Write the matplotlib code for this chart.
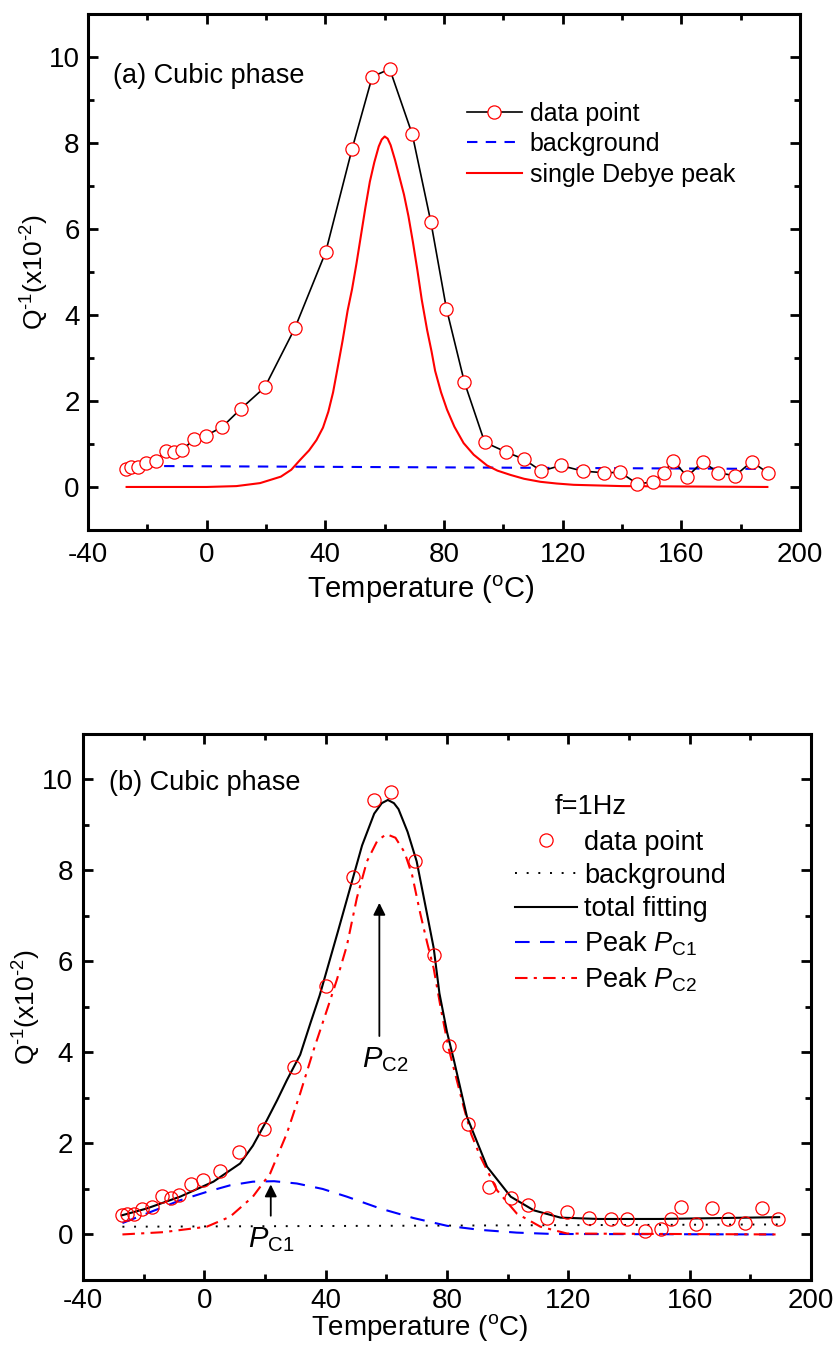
import matplotlib
matplotlib.use('Agg')
import matplotlib.pyplot as plt
from matplotlib.ticker import MultipleLocator

plt.rcParams['font.family'] = ['Liberation Sans', 'DejaVu Sans']
plt.rcParams['mathtext.fontset'] = 'custom'
plt.rcParams['mathtext.rm'] = 'Liberation Sans'
plt.rcParams['mathtext.it'] = 'Liberation Sans:italic'
plt.rcParams['mathtext.bf'] = 'Liberation Sans:bold'
plt.rcParams['axes.unicode_minus'] = False

# ---------------- data ----------------
temp = [-27.3, -25.6, -23.3, -20.5, -17.2, -13.8, -11.0, -8.2, -4.3, -0.3,
        5.3, 11.4, 19.6, 29.7, 40.1, 49.0, 55.8, 61.7, 69.3, 75.6,
        80.8, 86.9, 93.7, 101.0, 106.8, 112.8, 119.4, 126.7, 134.0, 139.4,
        145.2, 150.6, 154.0, 157.3, 162.0, 167.2, 172.5, 178.1, 183.7, 189.1]
q_inv = [0.42, 0.46, 0.46, 0.55, 0.60, 0.84, 0.81, 0.86, 1.11, 1.19,
         1.40, 1.81, 2.32, 3.69, 5.46, 7.86, 9.54, 9.72, 8.20, 6.15,
         4.15, 2.43, 1.04, 0.81, 0.65, 0.37, 0.50, 0.37, 0.33, 0.34,
         0.07, 0.12, 0.33, 0.61, 0.24, 0.59, 0.33, 0.26, 0.59, 0.33]

# (a) background and single Debye peak
bg_a_x = [-27, 189]
bg_a_y = [0.49, 0.42]
debye_x = [-27, 0, 10, 18, 25, 28.5, 31.5, 34.5, 37, 39.2, 41, 42.6, 44, 45.8, 47.5, 49, 50.5,
           52, 53.5, 55, 56.5, 58, 59, 60, 61, 62, 63.5, 65, 66.5, 68, 69.5, 71, 72.5, 74.3,
           75.8, 77, 79, 81, 83.5, 86.6, 90, 94.5, 98, 102.4, 107, 112.5, 118, 123.7, 140, 189]
debye_y = [0, 0, 0.02, 0.09, 0.24, 0.4, 0.63, 0.85, 1.09, 1.38, 1.75, 2.2, 2.72, 3.4, 4.1, 4.6,
           5.2, 5.85, 6.5, 7.1, 7.55, 7.92, 8.08, 8.15, 8.1, 7.95, 7.6, 7.2, 6.8, 6.3, 5.7, 5.05,
           4.35, 3.65, 3.15, 2.7, 2.2, 1.8, 1.4, 1.02, 0.75, 0.5, 0.38, 0.28, 0.19, 0.12, 0.08,
           0.05, 0.02, 0]

# (b) fitting
bg_b_x = [-27, 189]
bg_b_y = [0.17, 0.22]
pc1_x = [-27, -19, -8, 1, 8.5, 16, 23, 30.5, 39, 47, 58, 69, 80, 91, 103, 115, 189]
pc1_y = [0.25, 0.46, 0.75, 0.94, 1.08, 1.16, 1.17, 1.12, 1.0, 0.83, 0.57, 0.36, 0.19, 0.1, 0.04, 0.01, 0]
pc2_x = [-27, -13.5, 0.8, 8.5, 16, 21.7, 27.2, 31.6, 36, 41.5, 43.7, 47, 50.3, 53.6, 57, 60,
         63, 66, 68.5, 71.2, 73.5, 75.6, 78, 80.5, 83, 85.5, 88, 91, 96.5, 103, 110.8, 119.6, 189]
pc2_y = [0, 0.05, 0.17, 0.39, 0.83, 1.34, 2.22, 3.1, 4.05, 5.15, 5.6, 6.35, 7.4, 8.2, 8.65, 8.8,
         8.72, 8.4, 7.9, 7.05, 6.4, 5.85, 4.95, 4.1, 3.45, 2.8, 2.2, 1.71, 0.97, 0.46, 0.17, 0.02, 0]
tot_x = [-27.2, -19, -8, 3, 11.8, 16, 20.6, 24, 27.2, 31.6, 35, 38, 41, 44, 48, 52, 56, 58.5,
         60.5, 62.5, 64, 67, 70, 73.4, 75.6, 77.5, 80, 82.2, 86.6, 93.2, 101, 108.6, 117.4, 130,
         150, 170, 189.5]
tot_y = [0.42, 0.57, 0.83, 1.16, 1.56, 1.95, 2.51, 2.95, 3.39, 3.95, 4.65, 5.25, 5.95, 6.65, 7.6,
         8.55, 9.25, 9.48, 9.55, 9.48, 9.35, 8.85, 8.2, 7.05, 6.3, 5.3, 4.45, 3.85, 2.58, 1.49, 0.83,
         0.53, 0.37, 0.34, 0.34, 0.36, 0.38]

xticks_major = 40
yticks_major = 2
ylabel_text = 'Q$^{\\text{-}1}$(x10$^{\\text{-}2}$)'

fig = plt.figure(figsize=(8.4, 13.53), dpi=100)
ax1 = fig.add_axes([0.1048, 0.6083, 0.8476, 0.3814])
ax2 = fig.add_axes([0.0988, 0.0540, 0.8667, 0.4035])


def style(ax, tickfs, xpad, ypad):
    ax.set_xlim(-40, 200)
    ax.set_ylim(-1, 11)
    ax.xaxis.set_major_locator(MultipleLocator(xticks_major))
    ax.xaxis.set_minor_locator(MultipleLocator(xticks_major / 2))
    ax.yaxis.set_major_locator(MultipleLocator(yticks_major))
    ax.yaxis.set_minor_locator(MultipleLocator(yticks_major / 2))
    ax.tick_params(which='both', direction='in', top=True, right=True, width=2)
    ax.tick_params(which='major', length=7)
    ax.tick_params(which='minor', length=4)
    ax.tick_params(axis='x', labelsize=tickfs, pad=xpad)
    ax.tick_params(axis='y', labelsize=tickfs, pad=ypad)
    for s in ax.spines.values():
        s.set_linewidth(2.2)


# ---------------- (a) ----------------
style(ax1, 20, 9, 6)
ax1.plot(temp, q_inv, '-', color='black', lw=1.2, marker='o', ms=9.5,
         mfc='white', mec='red', mew=0.9, label='data point', zorder=3)
ax1.plot(bg_a_x, bg_a_y, color='blue', lw=1.5, dashes=(5, 4), label='background', zorder=2)
ax1.plot(debye_x, debye_y, color='red', lw=1.5, label='single Debye peak', zorder=2)
ax1.text(-31.5, 9.55, '(a) Cubic phase', fontsize=19.5, va='center', ha='left')
leg1 = ax1.legend(loc='upper left', bbox_to_anchor=(0.532, 0.830), frameon=False,
                  fontsize=18, numpoints=1, handlelength=2.2, handletextpad=0.32,
                  labelspacing=0.26, borderpad=0, borderaxespad=0)
ax1.set_xlabel('Temperature ($^{\\rm o}$C)', fontsize=21)
ax1.xaxis.set_label_coords(0.468, -0.085)
ax1.set_ylabel(ylabel_text, fontsize=19)
ax1.yaxis.set_label_coords(-0.052, 0.5)

# ---------------- (b) ----------------
style(ax2, 20, 6, 7)
ax2.plot(temp, q_inv, linestyle='none', marker='o', ms=9.5, mfc='none', mec='red',
         mew=0.9, label='data point', zorder=4)
ax2.plot(bg_b_x, bg_b_y, color='black', lw=1.4, dashes=(1, 5), label='background', zorder=2)
ax2.plot(tot_x, tot_y, color='black', lw=1.5, label='total fitting', zorder=3)
ax2.plot(pc1_x, pc1_y, color='blue', lw=1.5, dashes=(7, 5), label='Peak $P_{\\rm C1}$', zorder=2)
ax2.plot(pc2_x, pc2_y, color='red', lw=1.5, dashes=(6, 3, 1.5, 3),
         label='Peak $P_{\\rm C2}$', zorder=2)
ax2.text(-31.5, 9.92, '(b) Cubic phase', fontsize=19.5, va='center', ha='left')
ax2.text(127.5, 9.4, 'f=1Hz', fontsize=19.5, va='center', ha='center')
leg2 = ax2.legend(loc='upper left', bbox_to_anchor=(0.594, 0.825), frameon=False,
                  fontsize=19.5, numpoints=1, handlelength=2.27, handletextpad=0.27,
                  labelspacing=0.27, borderpad=0, borderaxespad=0)

ax2.annotate('', xy=(57.7, 7.35), xytext=(57.7, 4.3),
             arrowprops=dict(arrowstyle='-|>', color='black', lw=1.3, mutation_scale=18))
ax2.text(59.5, 4.15, '$P_{\\rm C2}$', fontsize=21, ha='center', va='top')
ax2.annotate('', xy=(21.9, 1.16), xytext=(21.9, 0.35),
             arrowprops=dict(arrowstyle='-|>', color='black', lw=1.3, mutation_scale=18))
ax2.text(22.0, 0.2, '$P_{\\rm C1}$', fontsize=21, ha='center', va='top')

ax2.set_xlabel('Temperature ($^{\\rm o}$C)', fontsize=20)
ax2.xaxis.set_label_coords(0.463, -0.058)
ax2.set_ylabel(ylabel_text, fontsize=19)
ax2.yaxis.set_label_coords(-0.055, 0.5)

fig.savefig('out.png', dpi=100)
